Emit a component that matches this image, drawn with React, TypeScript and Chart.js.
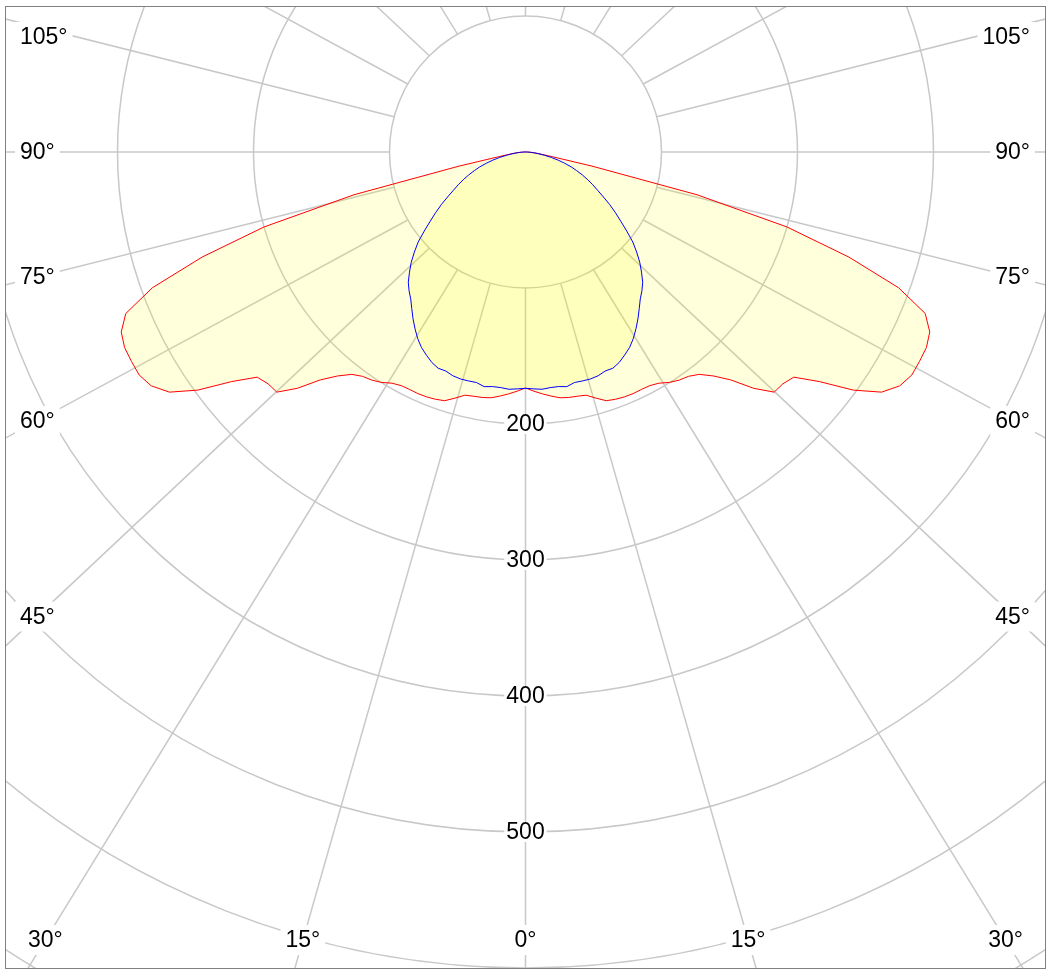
import { useEffect, useRef } from 'react';
import { Chart, registerables } from 'chart.js';

Chart.register(...registerables);

// angle from nadir (deg) and luminous intensity (cd/klm)
const ANGLES = [0, 2, 4, 6, 8, 10, 12, 14, 16, 18, 20, 22, 24, 26, 28, 30, 32, 34, 36, 38, 40, 42, 44, 46, 48, 50, 52, 54, 56, 58, 60, 62, 64, 66, 68, 70, 72, 74, 76, 78, 80, 82, 84, 86, 88, 90];
const C0_C180 = [173.5, 176, 178.3, 180.5, 182.5, 183.3, 183.6, 184.3, 188.3, 192.3, 193.5, 194.2, 194.5, 194.3, 194.6, 196.3, 199.8, 202.3, 203.9, 207.5, 215, 225.5, 241.6, 254.2, 254.7, 257.6, 274.2, 297.9, 315.8, 324.5, 328, 328.1, 328, 325.4, 317, 292, 250, 200, 130, 50, 20, 12, 8, 5, 2, 0];
const C90_C270 = [173.8, 174.3, 174.9, 174.2, 174.2, 175.2, 173.3, 173.5, 173.6, 173.0, 171.4, 171.5, 169.4, 166.2, 162.9, 158.5, 153.3, 147.9, 142.3, 137.1, 133.2, 128.8, 122.8, 116.8, 110, 103, 94.5, 86.6, 79.7, 73, 66.2, 60.1, 55.1, 50.1, 45.1, 40, 35.3, 29.8, 24.7, 19.5, 14.3, 10, 6.5, 3.8, 1.5, 0];

const RING_VALUES = [100, 200, 300, 400, 500, 600, 700, 800];
const RING_LABELS = [200, 300, 400, 500];
const SPOKE_ANGLES = [0, 15, 30, 45, 60, 75, 90, 105, 120, 135, 150, 165, 180];
const ANGLE_LABELS = [0, 15, 30, 45, 60, 75, 90, 105];

const GRID = '#c8c8c8';
const FONT = '23px "Liberation Sans", Arial, sans-serif';
const STRETCH = 1.065; // spokes lean slightly outwards, like the original

// mirror the half curve into a closed shape (left half, then right half)
function toXY(values: number[]) {
  const pts: { x: number; y: number }[] = [];
  for (let i = ANGLES.length - 1; i > 0; i--) {
    const a = (-ANGLES[i] * Math.PI) / 180;
    pts.push({ x: values[i] * Math.sin(a), y: -values[i] * Math.cos(a) });
  }
  for (let i = 0; i < ANGLES.length; i++) {
    const a = (ANGLES[i] * Math.PI) / 180;
    pts.push({ x: values[i] * Math.sin(a), y: -values[i] * Math.cos(a) });
  }
  return pts;
}

function spoke(cx: number, cy: number, r0: number, deg: number, side: number) {
  const t = (deg * Math.PI) / 180;
  const px = cx + side * r0 * Math.sin(t);
  const py = cy + r0 * Math.cos(t);
  let dx = side * STRETCH * Math.sin(t);
  let dy = Math.cos(t);
  const n = Math.hypot(dx, dy);
  dx /= n;
  dy /= n;
  return { px, py, dx, dy };
}

const polarGrid = {
  id: 'polarGrid',
  beforeDatasetsDraw(chart: any) {
    const { ctx, chartArea: ca, scales } = chart;
    const cx = scales.x.getPixelForValue(0);
    const cy = scales.y.getPixelForValue(0);
    const unit = scales.x.getPixelForValue(100) - cx;
    ctx.save();
    ctx.beginPath();
    ctx.rect(ca.left, ca.top, ca.right - ca.left, ca.bottom - ca.top);
    ctx.clip();
    ctx.strokeStyle = GRID;
    ctx.lineWidth = 1.5;
    RING_VALUES.forEach((v) => {
      ctx.beginPath();
      ctx.arc(cx, cy, (v / 100) * unit, 0, Math.PI * 2);
      ctx.stroke();
    });
    const r0 = (RING_VALUES[0] / 100) * unit;
    SPOKE_ANGLES.forEach((a) => {
      const sides = a === 0 || a === 180 ? [1] : [-1, 1];
      sides.forEach((s) => {
        const { px, py, dx, dy } = spoke(cx, cy, r0, a, s);
        ctx.beginPath();
        ctx.moveTo(px, py);
        ctx.lineTo(px + dx * 3000, py + dy * 3000);
        ctx.stroke();
      });
    });
    ctx.restore();
  },
  afterDatasetsDraw(chart: any) {
    const { ctx, chartArea: ca, scales } = chart;
    const cx = scales.x.getPixelForValue(0);
    const cy = scales.y.getPixelForValue(0);
    const unit = scales.x.getPixelForValue(100) - cx;
    ctx.save();
    ctx.font = FONT;
    ctx.textBaseline = 'middle';

    const label = (text: string, x: number, y: number, align: string, padX: number, h: number) => {
      const w = ctx.measureText(text).width;
      let left = x - w / 2;
      if (align === 'left') left = x;
      if (align === 'right') left = x - w;
      ctx.fillStyle = '#ffffff';
      ctx.fillRect(left - padX, y - h / 2, w + padX * 2, h);
      ctx.fillStyle = '#000000';
      ctx.textAlign = 'left';
      ctx.fillText(text, left, y + 1);
    };

    RING_LABELS.forEach((v) => {
      label(String(v), cx, cy + (v / 100) * unit, 'center', 2, 20);
    });

    const r0 = (RING_VALUES[0] / 100) * unit;
    const sideL = ca.left + 31;
    const sideR = ca.right - 31;
    const bottomY = ca.bottom - 28;
    ANGLE_LABELS.forEach((a) => {
      const sides = a === 0 ? [1] : [-1, 1];
      sides.forEach((s) => {
        const { px, py, dx, dy } = spoke(cx, cy, r0, a, s);
        const tSide = Math.abs(dx) > 1e-6 ? ((s < 0 ? sideL : sideR) - px) / dx : Infinity;
        const tBottom = dy > 1e-6 ? (bottomY - py) / dy : Infinity;
        const text = a + '°';
        if (tBottom <= tSide) {
          label(text, px + dx * tBottom, bottomY, 'center', 5, 30);
        } else {
          const y = Math.max(py + dy * tSide, ca.top + 30);
          if (s < 0) label(text, ca.left + 14, y, 'left', 5, 30);
          else label(text, ca.right - 15, y, 'right', 5, 30);
        }
      });
    });
    ctx.restore();
  },
  afterDraw(chart: any) {
    const { ctx, chartArea: ca } = chart;
    ctx.save();
    ctx.strokeStyle = '#808080';
    ctx.lineWidth = 1;
    ctx.strokeRect(ca.left - 0.5, ca.top - 0.5, ca.right - ca.left + 1, ca.bottom - ca.top + 1);
    ctx.restore();
  },
};

export default function App() {
  const chartRef = useRef<HTMLCanvasElement>(null);
  const chartInstance = useRef<Chart | null>(null);

  useEffect(() => {
    if (!chartRef.current) return;
    const ctx = chartRef.current.getContext('2d');
    if (!ctx) return;
    if (chartInstance.current) chartInstance.current.destroy();

    chartInstance.current = new Chart(ctx, {
      type: 'scatter',
      data: {
        datasets: [
          {
            label: 'C90-C270',
            data: toXY(C90_C270),
            showLine: true,
            borderColor: '#0000ff',
            borderWidth: 1,
            backgroundColor: 'rgba(255, 255, 0, 0.14)',
            fill: 'shape',
            pointRadius: 0,
            tension: 0,
          },
          {
            label: 'C0-C180',
            data: toXY(C0_C180),
            showLine: true,
            borderColor: '#ff0000',
            borderWidth: 1,
            backgroundColor: 'rgba(255, 255, 0, 0.14)',
            fill: 'shape',
            pointRadius: 0,
            tension: 0,
          },
        ],
      },
      options: {
        responsive: false,
        maintainAspectRatio: false,
        animation: false,
        layout: { padding: { left: 6, top: 7, right: 9, bottom: 9 } },
        scales: {
          x: { type: 'linear', min: -382, max: 382, display: false },
          y: { type: 'linear', min: -600, max: 106.6, display: false },
        },
        plugins: {
          legend: { display: false },
          tooltip: { enabled: false },
        },
      },
      plugins: [polarGrid],
    });

    return () => {
      if (chartInstance.current) {
        chartInstance.current.destroy();
        chartInstance.current = null;
      }
    };
  }, []);

  return (
    <div style={{ position: 'absolute', left: 0, top: 0, width: 1054, height: 977, background: '#ffffff' }}>
      <canvas ref={chartRef} width={1054} height={977} style={{ display: 'block' }} />
    </div>
  );
}
